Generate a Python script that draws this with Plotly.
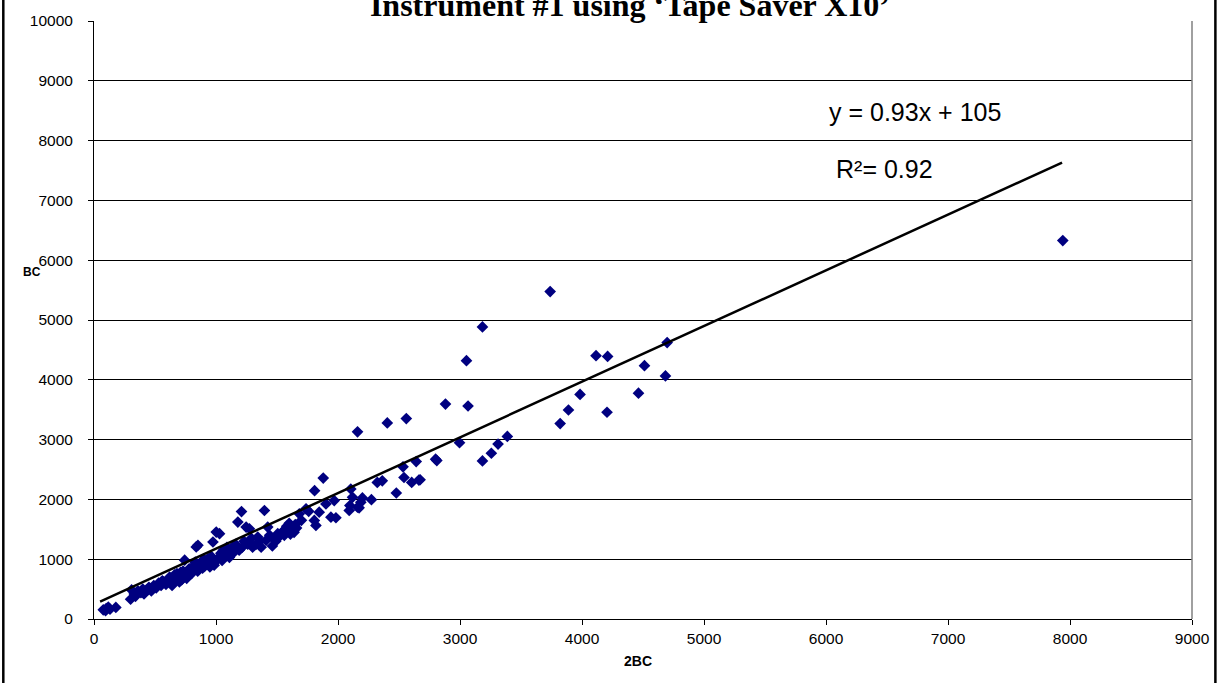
import plotly.graph_objects as go

# ---- data ----
x_2bc = [
    76, 95, 100, 117, 131, 179,
    300, 308, 330, 340, 360, 385, 400, 410,
    430, 450, 470, 490, 510, 530, 550, 570, 590, 600, 620, 640, 650, 670, 690, 700,
    720, 740, 743, 760, 780, 800, 811, 830, 838, 850, 852, 870, 890, 900, 920, 940,
    950, 960, 975, 990, 1002, 1010, 1029, 1040, 1050, 1060, 1075, 1090, 1100, 1110,
    1125, 1140, 1160, 1179, 1190, 1209, 1215, 1230, 1247, 1260, 1274, 1290, 1300,
    1330, 1342, 1360, 1370, 1397, 1411, 1424, 1440, 1462, 1480, 1490, 1506, 1520,
    1540, 1560, 1560, 1580, 1600, 1610, 1620, 1640, 1650, 1660, 1683, 1700,
    560, 620, 680, 730, 780, 880, 930, 1070, 1150, 1280, 660, 710, 905, 985,
    1738, 1760, 1806, 1808, 1819, 1846, 1879, 1901, 1942, 1969, 1983,
    2092, 2097, 2105, 2119, 2160, 2160, 2173, 2187, 2200, 2274,
    2322, 2363, 2404, 2478, 2533, 2541, 2560, 2604, 2641, 2663, 2673, 2800, 2810,
    2881, 2996, 3053, 3066, 3184, 3184, 3257, 3312, 3388, 3739, 3821, 3889, 3984,
    4115, 4205, 4210, 4463, 4512, 4684, 4698, 7941,
]
y_bc = [
    154, 140, 175, 198, 165, 193,
    330, 486, 420, 380, 470, 440, 500, 420,
    480, 530, 470, 560, 520, 600, 560, 620, 580, 650, 610, 560, 680, 640, 700, 620,
    660, 720, 984, 680, 740, 760, 880, 950, 1205, 800, 1233, 900, 850, 1000, 920, 980,
    870, 1050, 1288, 950, 1454, 1000, 1427, 1100, 980, 1150, 1050, 1200, 1100, 1030,
    1180, 1120, 1250, 1620, 1150, 1797, 1200, 1300, 1537, 1250, 1509, 1350, 1200,
    1250, 1371, 1300, 1200, 1814, 1316, 1537, 1400, 1221, 1350, 1300, 1427, 1380,
    1450, 1482, 1400, 1550, 1600, 1420, 1500, 1450, 1580, 1520, 1759, 1650,
    640, 700, 760, 800, 840, 930, 1000, 1080, 1120, 1260, 740, 780, 880, 900,
    1842, 1800, 1648, 2146, 1565, 1786, 2356, 1925, 1703, 1980, 1693,
    1814, 1897, 2174, 2035, 1869, 3130, 1859, 1951, 2024, 1996,
    2284, 2311, 3279, 2107, 2544, 2366, 3352, 2284, 2632, 2323, 2329, 2672, 2650,
    3594, 2948, 4320, 3562, 4884, 2644, 2772, 2926, 3053, 5476, 3268, 3495, 3755,
    4403, 3457, 4391, 3777, 4237, 4065, 4623, 6328,
]
trend_x = [50, 7935]
trend_y = [290, 7633]
x_ticks = [0, 1000, 2000, 3000, 4000, 5000, 6000, 7000, 8000, 9000]
y_ticks = [0, 1000, 2000, 3000, 4000, 5000, 6000, 7000, 8000, 9000, 10000]
title_text = "Instrument #1 using \u2018Tape Saver X10\u2019"
eq_text = "y = 0.93x + 105"
r2_text = "R\u00b2= 0.92"

SANS = "Liberation Sans, Arial, sans-serif"
SERIF = "Liberation Serif, Times New Roman, serif"

fig = go.Figure()
fig.add_trace(go.Scatter(
    x=x_2bc, y=y_bc, mode="markers",
    marker=dict(symbol="diamond", size=9, color="#000080", line=dict(width=0)),
    showlegend=False, hoverinfo="x+y",
))
fig.add_trace(go.Scatter(
    x=trend_x, y=trend_y, mode="lines",
    line=dict(color="black", width=2.5), showlegend=False, hoverinfo="skip",
))

fig.update_layout(
    width=1222, height=683,
    margin=dict(l=94, r=26, t=17, b=64),
    paper_bgcolor="white", plot_bgcolor="white",
    title=dict(text="<b>" + title_text + "</b>", x=0.5155, xanchor="center",
               y=1 - 4.5 / 683, yanchor="middle", yref="container",
               font=dict(family=SERIF, size=32, color="black")),
    xaxis=dict(range=[0, 9000], tickmode="array", tickvals=x_ticks,
               ticktext=[str(v) for v in x_ticks], showgrid=False, zeroline=False,
               showline=True, linecolor="black", linewidth=1,
               ticks="outside", ticklen=5, tickcolor="black",
               tickfont=dict(family=SANS, size=15.5, color="black")),
    yaxis=dict(range=[0, 10000], tickmode="array", tickvals=y_ticks,
               ticktext=[str(v) for v in y_ticks], showgrid=True,
               gridcolor="black", gridwidth=1, zeroline=False,
               showline=True, linecolor="black", linewidth=1,
               ticks="outside", ticklen=5, tickcolor="black",
               ticklabelstandoff=12,
               tickfont=dict(family=SANS, size=15.5, color="black")),
    shapes=[
        dict(type="line", xref="paper", yref="paper", x0=1, x1=1, y0=0, y1=1,
             line=dict(color="#808080", width=1.5)),
        dict(type="line", xref="paper", yref="paper", x0=-0.0826, x1=-0.0826,
             y0=-0.12, y1=1.05, line=dict(color="black", width=2.5)),
        dict(type="line", xref="paper", yref="paper", x0=1.0213, x1=1.0213,
             y0=-0.12, y1=1.05, line=dict(color="black", width=2.5)),
    ],
    annotations=[
        dict(text="<b>BC</b>", xref="paper", yref="paper", x=-0.0563, y=0.580,
             xanchor="center", yanchor="middle", showarrow=False,
             font=dict(family=SANS, size=12, color="black")),
        dict(text="<b>2BC</b>", xref="paper", yref="paper", x=0.4955, y=-0.071,
             xanchor="center", yanchor="middle", showarrow=False,
             font=dict(family=SANS, size=14, color="black")),
        dict(text=eq_text, x=6732, y=8470, xref="x", yref="y", showarrow=False,
             xanchor="center", yanchor="middle",
             font=dict(family=SANS, size=25, color="black")),
        dict(text=r2_text, x=6479, y=7530, xref="x", yref="y", showarrow=False,
             xanchor="center", yanchor="middle",
             font=dict(family=SANS, size=25, color="black")),
    ],
)

fig.write_html("out.html", config={"displayModeBar": False},
               post_script="document.body.style.margin='0px';")
